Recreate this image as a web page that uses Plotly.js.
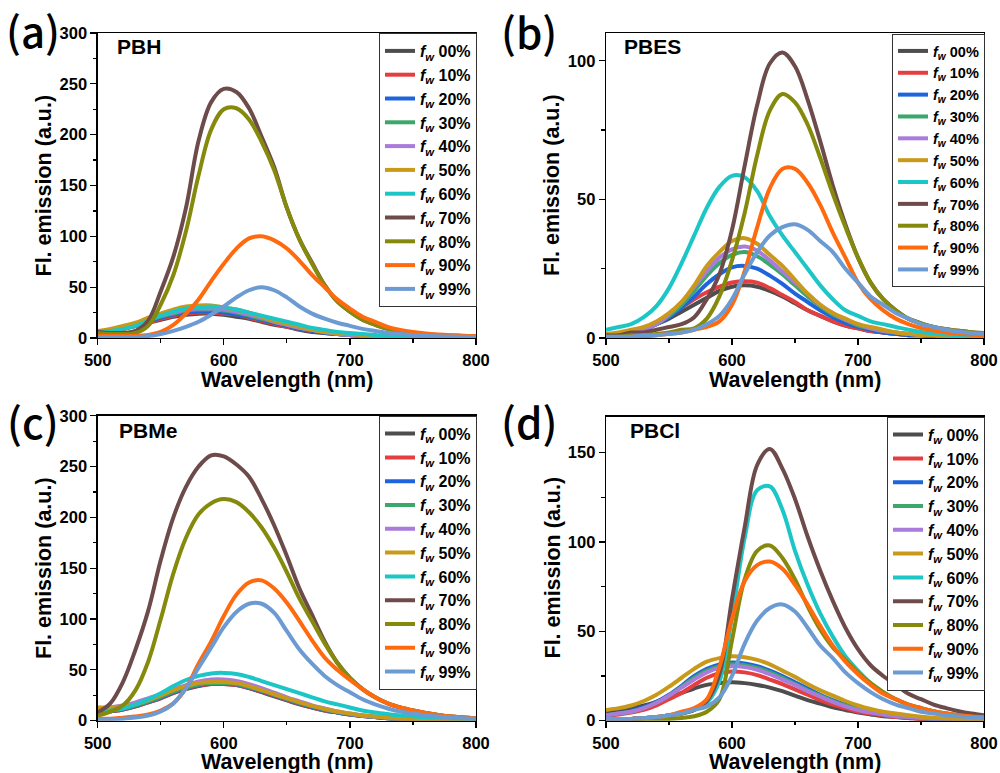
<!DOCTYPE html>
<html><head><meta charset="utf-8">
<script src="https://cdn.plot.ly/plotly-3.0.1.min.js"></script>
<style>html,body{margin:0;padding:0;background:#fff;}#chart{width:1000px;height:773px;}</style>
</head><body><div id="chart"></div>
<script>
// Wavelength grid (nm)
const wavelength = [500,510,520,530,540,550,560,570,580,590,600,610,620,630,640,650,660,670,680,690,700,710,720,730,740,750,760,770,780,790,800];
const fractions = ['00%','10%','20%','30%','40%','50%','60%','70%','80%','90%','99%'];
const panelNames = ['PBH','PBES','PBMe','PBCl'];
const panelLetters = ['(a)','(b)','(c)','(d)'];

// (a) PBH
const PBH_00 = [5,7,9,12,15,18,21,23,24,24,23,21,19,16,13,11,8,6,5,4,3,2,2,1,1,1,1,1,1,1,1];
const PBH_10 = [5,7,9,12,15,19,22,24,25,25,24,23,20,17,14,11,9,7,5,4,3,2,2,1,1,1,1,1,1,1,1];
const PBH_20 = [6,7,10,13,16,20,23,25,26,26,25,23,21,18,15,12,9,7,5,4,3,2,2,1,1,1,1,1,1,1,1];
const PBH_30 = [6,8,10,13,17,21,24,27,28,28,27,25,22,19,16,13,10,8,6,4,3,2,2,1,1,1,1,1,1,1,1];
const PBH_40 = [6,8,10,14,18,22,25,28,29,29,28,26,23,20,16,13,10,8,6,4,3,2,2,1,1,1,1,1,1,1,1];
const PBH_50 = [7,9,12,15,20,24,28,31,32,32,30,28,25,21,17,14,11,8,6,5,4,3,2,2,1,1,1,1,1,1,1];
const PBH_60 = [6,7,9,12,17,22,26,29,30,31,30,28,25,22,19,16,13,10,8,6,5,4,3,2,2,1,1,1,1,1,1];
const PBH_70 = [6,5,5,7,17,46,80,128,194,232,245,242,226,198,168,128,97,74,52,36,26,18,13,9,6.5,4.5,3.5,2.8,2.3,2,1.8];
const PBH_80 = [5,4,4,5,12,33,62,105,160,205,225,226,215,193,165,128,97,73,52,36,26,18,13,9,6.5,4.5,3.5,2.8,2.3,2,1.8];
const PBH_90 = [2,2,2,2,3,6,13,24,38,56,73,88,98,100,96,88,76,62,50,38,29,21,16,11,8,6,4.5,3.5,2.8,2.3,2];
const PBH_99 = [1,1,1,1,2,4,7,11,16,23,31,40,47,50,47,40,31,24,19,15,12,9,7,5.3,4,3,2.3,1.8,1.4,1.2,1];

// (b) PBES
const PBES_00 = [1,1.5,2,3,5,7,9.5,12,14.5,17,18.5,19,18.5,17,15,12.5,10,8,6,4.5,3.5,2.5,2,1.5,1,1,0.5,0.5,0.5,0.5,0.5];
const PBES_10 = [1,1.5,2.5,3.5,5.5,8,11,14,16.5,18.5,20,20.5,20,18,15.5,13,10,8,6,4.5,3.5,2.5,2,1.5,1,1,0.5,0.5,0.5,0.5,0.5];
const PBES_20 = [1,1.5,2,3,5,7.5,11,15,19.5,23,25.5,26,25,22.5,19.5,16,13,10,7.5,5.5,4,3,2,1.5,1,1,0.5,0.5,0.5,0.5,0.5];
const PBES_30 = [1,1.5,2,3,5,8,12,17,22.5,27,30,31,29.5,26.5,23,19,15,11.5,8.5,6.5,4.5,3.5,2.5,2,1.5,1,1,0.5,0.5,0.5,0.5];
const PBES_40 = [1,1.5,2,3,5,8.5,13,18.5,24,29,32,33,31.5,28,24,20,16,12,9,6.5,5,3.5,2.5,2,1.5,1,1,0.5,0.5,0.5,0.5];
const PBES_50 = [1.5,2,3,4,6,9,13,19,26,31,35,36,34,30,26,21,16,12,9,7,5,4,3,2,1.5,1,1,0.5,0.5,0.5,0.5];
const PBES_60 = [3,4,5,7.5,11.5,18,27,37,47,54.5,58.5,58,53,44,37,31,25,19,14,10,8,6,5,4,3,2.2,1.7,1.3,1.1,1,1];
const PBES_70 = [1,1,2,2,3,4,5,7.5,14,23,39,62,84,99,103,98,86,71,55,41,29,20,14,10,7,5.3,4,3.2,2.6,2.1,1.8];
const PBES_80 = [0.5,0.5,1,1,1.5,2,3,3.5,7,15,28,45,66,82,88,85,77,65,52,40,29,20,14,10,7,5.3,4,3.2,2.6,2.1,1.8];
const PBES_90 = [0,0,0.5,0.5,1,1.5,2,3,4,6,12,24,40,54,61,61,56,48,38,29,20,14,10,7,5,3.6,2.7,2,1.5,1.2,1];
const PBES_99 = [0.5,0.5,0.5,1,1,1.5,2,3,5,8,14,23,31,37,40,41,39,35,31,25,20,15,12,9,7,5,4,3,2.3,1.8,1.5];

// (c) PBMe
const PBMe_00 = [7,9,11,14,18,22,27,31,34,36,36,35,32,28,24,20,16,13,10,8,6,4.5,3.5,2.5,2,1.5,1,1,1,1,1];
const PBMe_10 = [7,9,11,14,18,22.5,27.5,31.5,34.5,36,36,35,32,28.5,24.5,20.5,16.5,13,10,8,6,4.5,3.5,2.5,2,1.5,1,1,1,1,1];
const PBMe_20 = [8,9.5,11.5,14.5,18.5,23,28,32,35,36.5,36.5,35.5,32.5,29,25,21,17,13.5,10.5,8,6,4.5,3.5,2.5,2,1.5,1,1,1,1,1];
const PBMe_30 = [8,10,12,15,19,23.5,28.5,32.5,35.5,37,37,36,33,29.5,25.5,21.5,17.5,14,11,8.5,6.5,5,3.5,2.5,2,1.5,1,1,1,1,1];
const PBMe_40 = [11,13,15,18,22,26,31,35,38.5,40.5,40.5,39,36,32,27.5,23,19,15,12,9,7,5,4,3,2,1.5,1,1,1,1,1];
const PBMe_50 = [13,13,14,16,20,25,30,34,37,38,38,37,34,30,26,22,18,14.5,11.5,9,7,5,4,3,2,1.5,1,1,1,1,1];
const PBMe_60 = [9,10,12,16,21,27,34,40,44,46.5,47,46,43,39,35,31,27,23,19,16,13,10,8,6.5,5.2,4.3,3.5,3,2.5,2.2,2];
const PBMe_70 = [8,17,38,70,108,158,200,230,250,261,260,252,240,218,192,162,130,104,78,57,42,31,23,17,13,10,7.5,5.5,4,3.2,2.5];
const PBMe_80 = [5,9,15,30,58,100,145,180,203,214,218,215,205,190,170,146,120,98,76,57,42,31,23,17,13,10,7.5,5.5,4,3.2,2.5];
const PBMe_90 = [2,2,3,4,6,10,17,32,56,78,103,124,136,138,130,116,98,79,62,50,40,31,23,17,13,10,7.5,5.5,4,3.2,2.5];
const PBMe_99 = [1,1.5,2,3,5,9,17,32,52,72,92,107,115,115,106,88,70,56,44,35,28,21,16,12,9,7,5.3,4,3,2.4,2];

// (d) PBCl
const PBCl_00 = [5,6,7,8.5,10.5,13,15.5,18,20,21,21.5,21,20,18.5,16.5,14,11.5,9.5,7.5,6,4.5,3.5,2.5,2,1.5,1,1,1,0.5,0.5,0.5];
const PBCl_10 = [3,3.5,4.5,6,8.5,12,15.5,20,24,26.5,27.5,27,25.5,23,20.5,17.5,14.5,11.5,9,7,5,4,3,2,1.5,1,1,0.5,0.5,0.5,0.5];
const PBCl_20 = [3,4,5.5,7.5,10.5,14.5,19.5,25,29,31.5,32.5,32,30.5,28,25,21.5,18,14.5,11.5,9,7,5,4,3,2,1.5,1,1,0.5,0.5,0.5];
const PBCl_30 = [3,4,5,7,10,14,19,24,28,30.5,31.5,31,29.5,27,24,20.5,17,14,11,8.5,6.5,5,3.5,2.5,2,1.5,1,1,0.5,0.5,0.5];
const PBCl_40 = [3,4,5,7,10,14,18.5,23,27,29.5,30.5,30,28.5,26,23,20,16.5,13.5,10.5,8,6,4.5,3.5,2.5,2,1.5,1,1,0.5,0.5,0.5];
const PBCl_50 = [6,7,8.5,11,14.5,19,24,29,33,35,36,35.5,34,31.5,28,24.5,20.5,17,14,11,8.5,6.5,5,4,3,2.2,1.6,1.2,1,1,1];
const PBCl_60 = [1,1,1,1.5,2,3,4,6,10,22,58,102,129,131,118,95,76,60,47,36,28,21,16,12,9,7,5.3,4,3,2.4,2];
const PBCl_70 = [1,1,1,1.5,2,3,4,6,11,26,68,108,143,152,141,124,103,84,67,52,40,31,25,20,15,12,9,7,5.3,4,3];
const PBCl_80 = [1,1,1,1,1,1,1.5,2.5,5,12,45,79,95,98,91,79,64,51,41,34,27,21,16,12,9,7,5.3,4,3,2.4,2];
const PBCl_90 = [1,1,1,1.5,2,3,5,7,12,30,57,78,87,89,85,76,65,53,42,33,26,20,15,12,9,7,5.3,4,3,2.4,2];
const PBCl_99 = [1,1,1,1.5,2,3,4,6,8,13,25,43,56,63,65,61,52,42,35,27,21,16,12,9,7,5,4,3,2.4,1.9,1.5];

const colors = ['#4d4d4d','#e53e3e','#1e64dc','#3ba76a','#a97bda','#c99a1a','#1cc6c6','#6e4b4b','#858a0c','#ff6a0e','#6b9bd2'];

const panelSeries = [
  [PBH_00,PBH_10,PBH_20,PBH_30,PBH_40,PBH_50,PBH_60,PBH_70,PBH_80,PBH_90,PBH_99],
  [PBES_00,PBES_10,PBES_20,PBES_30,PBES_40,PBES_50,PBES_60,PBES_70,PBES_80,PBES_90,PBES_99],
  [PBMe_00,PBMe_10,PBMe_20,PBMe_30,PBMe_40,PBMe_50,PBMe_60,PBMe_70,PBMe_80,PBMe_90,PBMe_99],
  [PBCl_00,PBCl_10,PBCl_20,PBCl_30,PBCl_40,PBCl_50,PBCl_60,PBCl_70,PBCl_80,PBCl_90,PBCl_99]
];
const yRanges = [[0,300],[0,110],[0,300],[0,170]];

const traces = [];
panelSeries.forEach((series, p) => {
  const sfx = p === 0 ? '' : String(p + 1);
  series.forEach((vals, i) => {
    traces.push({
      type: 'scatter', mode: 'lines',
      x: wavelength, y: vals,
      xaxis: 'x' + sfx, yaxis: 'y' + sfx,
      legend: 'legend' + sfx,
      name: '<i>f</i><sub><i>w</i></sub> ' + fractions[i],
      line: {color: colors[i], width: 4, shape: 'spline', smoothing: 1},
      hoverinfo: 'skip'
    });
  });
});

const tickFont = {family: 'Liberation Sans, Arial, sans-serif', size: 16.5, color: '#000', weight: 'bold'};
function xAxis(domain, anchor) {
  return {domain: domain, anchor: anchor, range: [500, 800], tick0: 500, dtick: 100,
    showline: true, linecolor: '#000', linewidth: 1.3, mirror: true, ticks: 'outside', ticklen: 6, tickwidth: 1.3, tickcolor: '#000',
    ticklabelstandoff: 1,
    minor: {dtick: 50, ticks: 'outside', ticklen: 3.5, tickwidth: 1.2, tickcolor: '#000', showgrid: false},
    showgrid: false, zeroline: false, tickfont: tickFont, fixedrange: true};
}
function yAxis(domain, anchor, range) {
  return {domain: domain, anchor: anchor, range: range, tick0: 0, dtick: 50,
    showline: true, linecolor: '#000', linewidth: 1.3, mirror: true, ticks: 'outside', ticklen: 6, tickwidth: 1.3, tickcolor: '#000',
    minor: {dtick: 25, ticks: 'outside', ticklen: 3.5, tickwidth: 1.2, tickcolor: '#000', showgrid: false},
    showgrid: false, zeroline: false, tickfont: tickFont, fixedrange: true};
}
const xL = [0.0977, 0.476], xR = [0.606, 0.984];
const yT = [0.5627, 0.9573], yB = [0.0677, 0.4622], yBd = [0.0677, 0.4609];

function legendCfg(x, y, size) {
  return {x: x, xanchor: 'right', y: y, yanchor: 'top', bgcolor: '#fff', bordercolor: '#333', borderwidth: 1,
    font: {family: 'Liberation Sans, Arial, sans-serif', size: size, color: '#000', weight: 'bold'},
    itemwidth: 30, tracegroupgap: 0, itemclick: false, itemdoubleclick: false};
}

const titleFont = {family: 'Liberation Sans, Arial, sans-serif', size: 21.5, color: '#000', weight: 'bold'};
const nameFont = {family: 'Liberation Sans, Arial, sans-serif', size: 21, color: '#000', weight: 'bold'};
const letterFont = {family: 'Noto Sans CJK KR, Noto Sans, sans-serif', size: 42, color: '#000', weight: 500};
function ann(text, x, y, font, xanchor, angle) {
  return {text: text, x: x, y: y, xref: 'paper', yref: 'paper', showarrow: false, font: font,
    xanchor: xanchor || 'center', yanchor: 'middle', textangle: angle || 0};
}

const annotations = [
  ann(panelLetters[0], 0.004, 1 - 29/773, letterFont, 'left'),
  ann(panelLetters[1], 0.499, 1 - 31/773, letterFont, 'left'),
  ann(panelLetters[2], 0.005, 1 - 420/773, letterFont, 'left'),
  ann(panelLetters[3], 0.499, 1 - 420/773, letterFont, 'left'),
  ann(panelNames[0], 0.115, 0.9398, nameFont, 'left'),
  ann(panelNames[1], 0.622, 0.9398, nameFont, 'left'),
  ann(panelNames[2], 0.117, 0.4437, nameFont, 'left'),
  ann(panelNames[3], 0.628, 0.4437, nameFont, 'left'),
  ann('Wavelength (nm)', 0.287, 1 - 379.5/773, titleFont),
  ann('Wavelength (nm)', 0.795, 1 - 379.5/773, titleFont),
  ann('Wavelength (nm)', 0.287, 1 - 762.3/773, titleFont),
  ann('Wavelength (nm)', 0.795, 1 - 762.3/773, titleFont),
  ann('Fl. emission (a.u.)', 0.044, 1 - 185.5/773, titleFont, 'center', -90),
  ann('Fl. emission (a.u.)', 0.5525, 1 - 185.5/773, titleFont, 'center', -90),
  ann('Fl. emission (a.u.)', 0.044, 1 - 568/773, titleFont, 'center', -90),
  ann('Fl. emission (a.u.)', 0.5525, 1 - 568/773, titleFont, 'center', -90)
];

const layout = {
  width: 1000, height: 773, margin: {l: 0, r: 0, t: 0, b: 0},
  paper_bgcolor: '#fff', plot_bgcolor: '#fff', showlegend: true,
  xaxis: xAxis(xL, 'y'), yaxis: yAxis(yT, 'x', yRanges[0]),
  xaxis2: xAxis(xR, 'y2'), yaxis2: yAxis(yT, 'x2', yRanges[1]),
  xaxis3: xAxis(xL, 'y3'), yaxis3: yAxis(yB, 'x3', yRanges[2]),
  xaxis4: xAxis(xR, 'y4'), yaxis4: yAxis(yBd, 'x4', yRanges[3]),
  legend: legendCfg(0.477, 1 - 33/773, 16),
  legend2: legendCfg(0.985, 1 - 34/773, 14.5),
  legend3: legendCfg(0.477, 1 - 415.7/773, 16),
  legend4: legendCfg(0.985, 1 - 416.7/773, 16),
  annotations: annotations
};

Plotly.newPlot('chart', traces, layout, {displayModeBar: false, staticPlot: true});
</script>
</body></html>
